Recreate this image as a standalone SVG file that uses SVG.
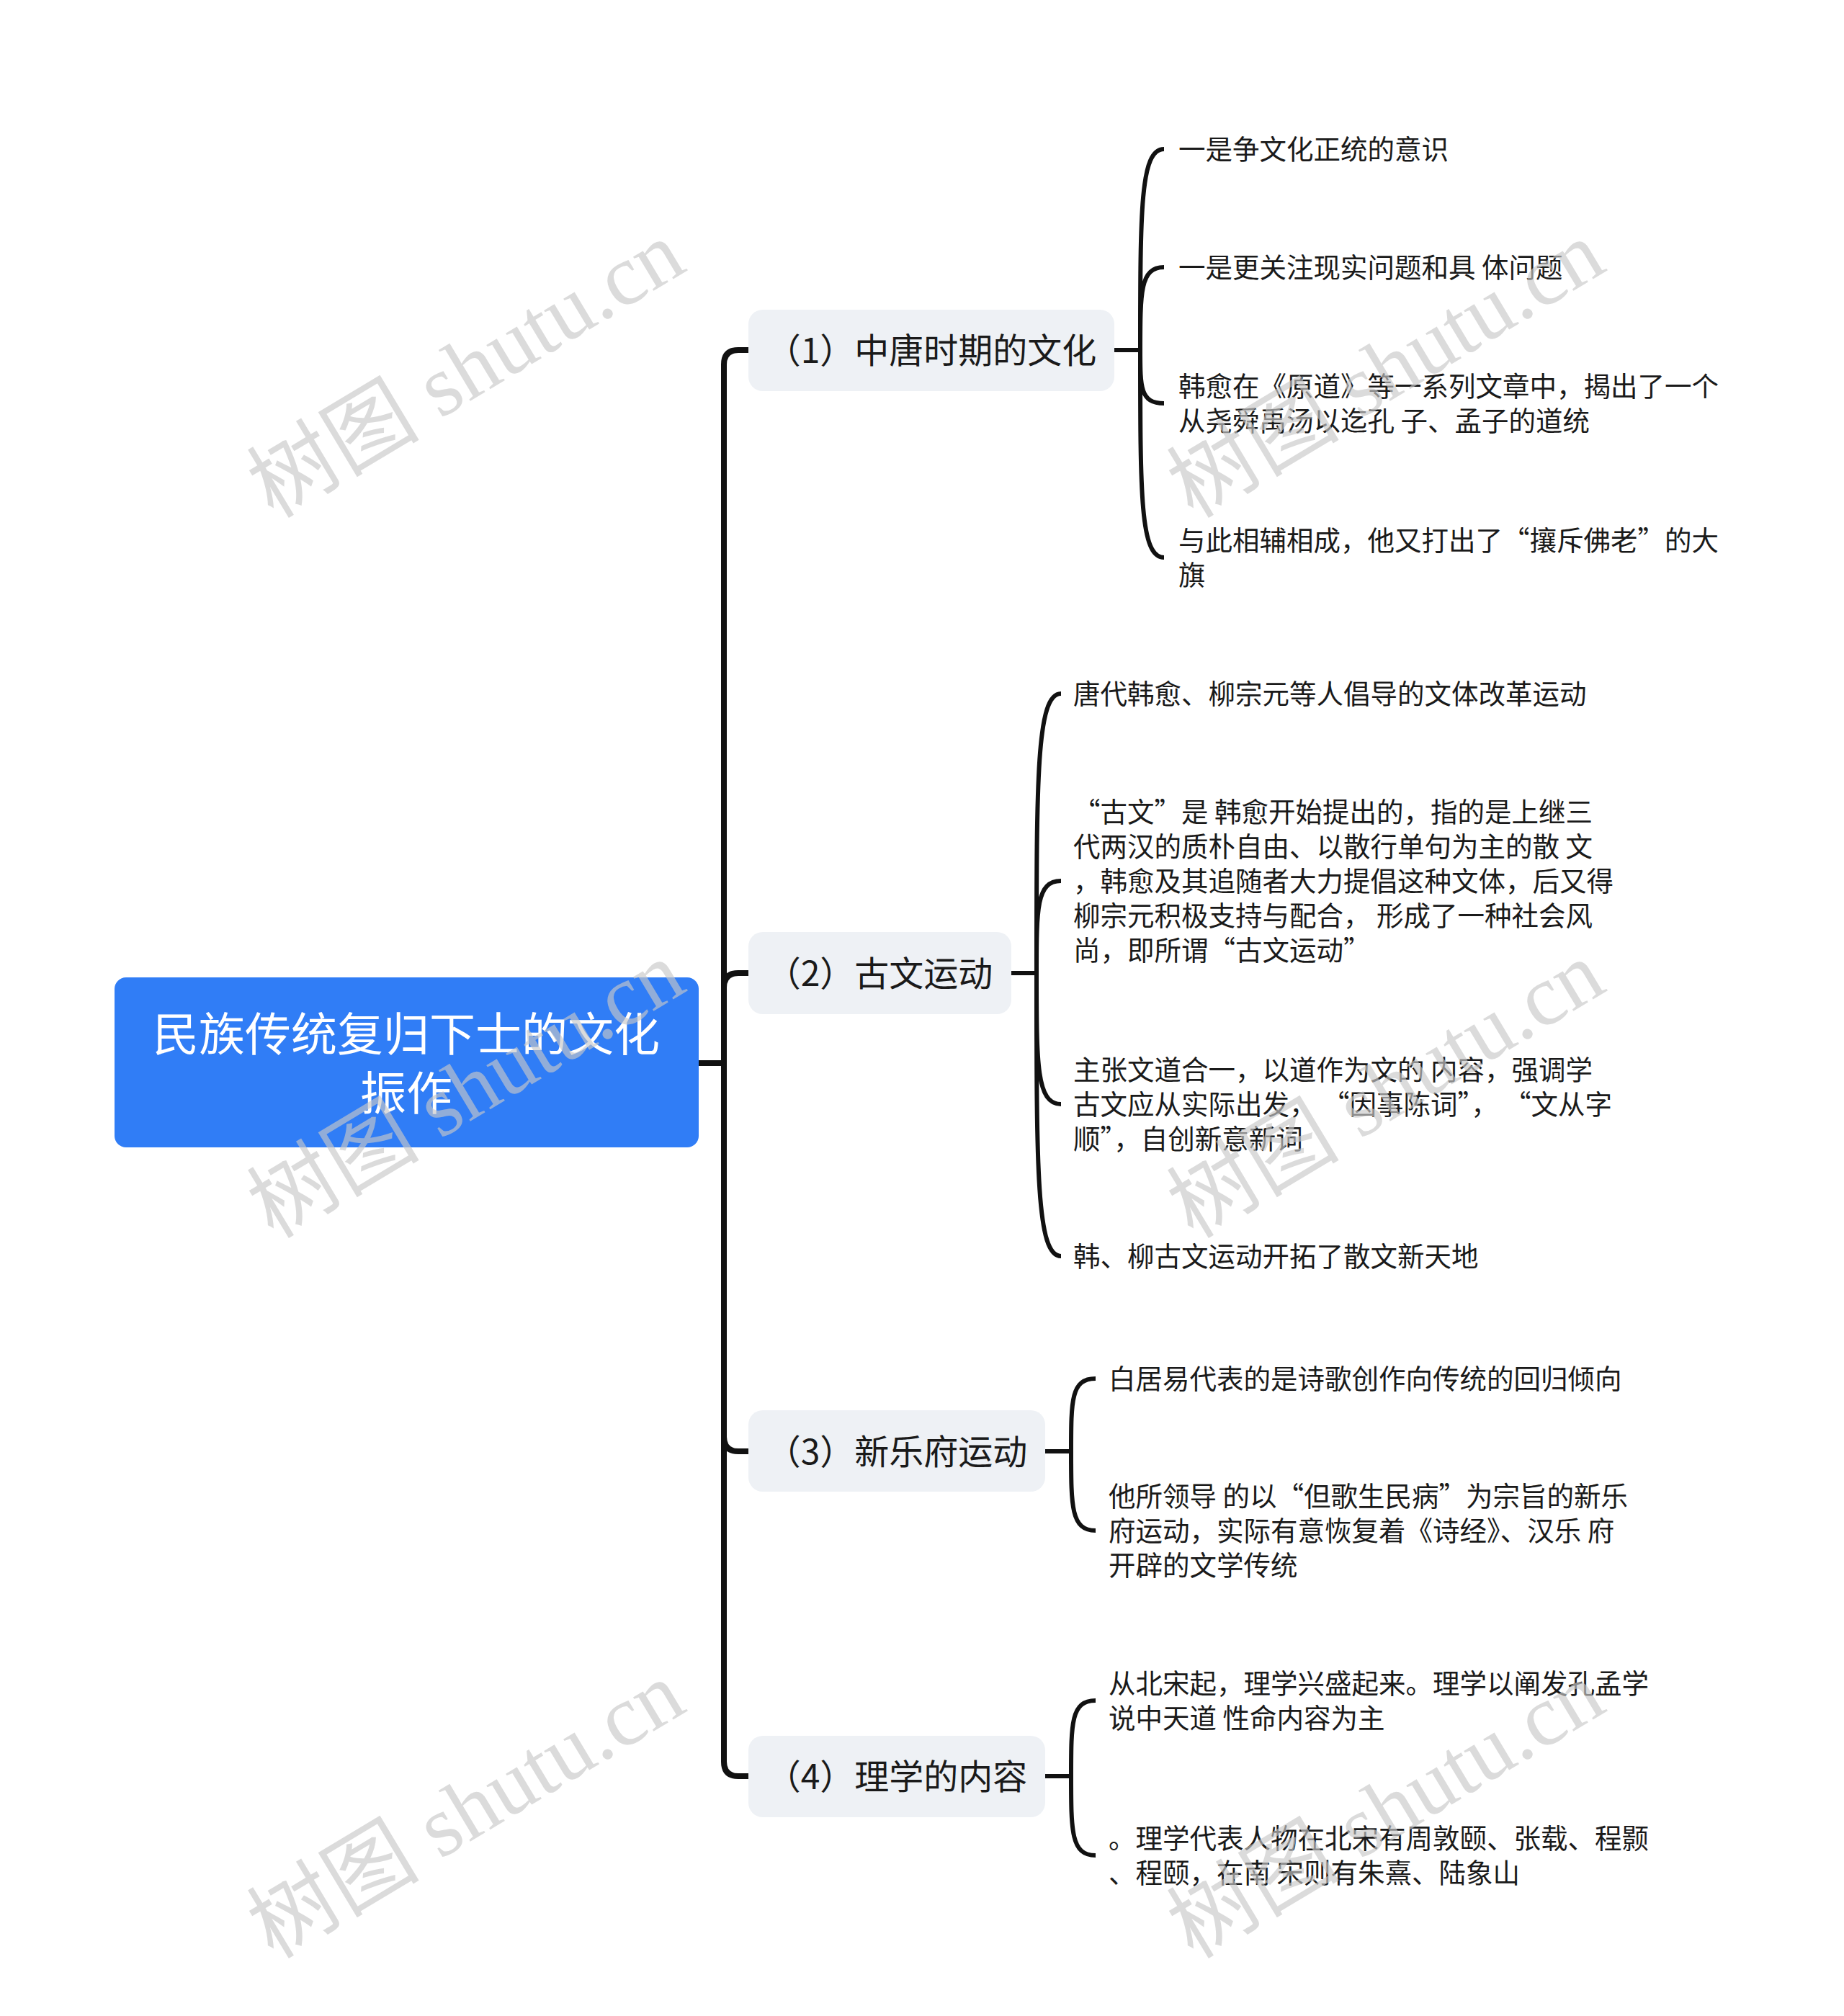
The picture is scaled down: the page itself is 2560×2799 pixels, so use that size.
<svg xmlns="http://www.w3.org/2000/svg" width="2560" height="2799" viewBox="0 0 2560 2799">
<defs>
<style>
.bg{fill:#ffffff}
.l1{fill:none;stroke:#111111;stroke-width:8;stroke-linecap:butt;stroke-linejoin:round}
.l2{fill:none;stroke:#111111;stroke-width:6;stroke-linecap:butt}
.root{fill:#307df6}
.sub{fill:#eef1f5}
.rt{font-family:"Noto Sans CJK SC","Noto Sans",sans-serif;font-size:64px;fill:#ffffff;text-anchor:middle}
.st{font-family:"Noto Sans CJK SC","Noto Sans",sans-serif;font-size:48px;fill:#1a1a1a;text-anchor:middle}
.lt{font-family:"Noto Sans CJK SC","Noto Sans",sans-serif;font-size:37.5px;fill:#1a1a1a}
.wm{font-family:"Liberation Serif","Noto Sans CJK SC",serif;font-size:120px;fill:#c8c8c8;fill-opacity:0.65;text-anchor:middle;dominant-baseline:central}
</style>
</defs>
<rect class="bg" x="0" y="0" width="2560" height="2799"/>

<g id="connectors">
<path class="l1" d="M969 1476 H1005"/>
<path class="l1" d="M1005 1476 V506 Q1005 486 1025 486 H1039"/>
<path class="l1" d="M1005 1476 V1371 Q1005 1351 1025 1351 H1039"/>
<path class="l1" d="M1005 1476 V1995 Q1005 2015 1025 2015 H1039"/>
<path class="l1" d="M1005 1476 V2446 Q1005 2466 1025 2466 H1039"/>

<path class="l2" d="M1547 486 H1583"/>
<path class="l2" d="M1583 486 C1583 291 1583 207 1616 207"/>
<path class="l2" d="M1583 486 C1583 405 1583 371 1616 371"/>
<path class="l2" d="M1583 486 C1583 538 1583 560 1616 560"/>
<path class="l2" d="M1583 486 C1583 688 1583 774 1616 774"/>

<path class="l2" d="M1404 1351 H1439"/>
<path class="l2" d="M1439 1351 C1439 1079 1439 963 1473 963"/>
<path class="l2" d="M1439 1351 C1439 1261 1439 1223 1473 1223"/>
<path class="l2" d="M1439 1351 C1439 1478 1439 1533 1473 1533"/>
<path class="l2" d="M1439 1351 C1439 1626 1439 1744 1473 1744"/>

<path class="l2" d="M1451 2015 H1487"/>
<path class="l2" d="M1487 2015 C1487 1944 1487 1914 1521 1914"/>
<path class="l2" d="M1487 2015 C1487 2092 1487 2125 1521 2125"/>

<path class="l2" d="M1451 2466 H1487"/>
<path class="l2" d="M1487 2466 C1487 2392 1487 2361 1521 2361"/>
<path class="l2" d="M1487 2466 C1487 2543 1487 2576 1521 2576"/>
</g>

<g id="root">
<rect class="root" x="159" y="1357" width="811" height="236" rx="16"/>
<text class="rt" x="564" y="1459">民族传统复归下士的文化</text>
<text class="rt" x="564" y="1541">振作</text>
</g>

<g id="n1">
<rect class="sub" x="1039" y="430" width="508" height="113" rx="20"/>
<text class="st" x="1293" y="504">（1）中唐时期的文化</text>
</g>
<g id="n2">
<rect class="sub" x="1039" y="1294" width="365" height="114" rx="20"/>
<text class="st" x="1221" y="1369">（2）古文运动</text>
</g>
<g id="n3">
<rect class="sub" x="1039" y="1958" width="412" height="113" rx="20"/>
<text class="st" x="1245" y="2033">（3）新乐府运动</text>
</g>
<g id="n4">
<rect class="sub" x="1039" y="2410" width="412" height="113" rx="20"/>
<text class="st" x="1245" y="2484">（4）理学的内容</text>
</g>

<g id="n1a"><text class="lt" x="1636" y="221">一是争文化正统的意识</text></g>
<g id="n1b"><text class="lt" x="1636" y="385">一是更关注现实问题和具 体问题</text></g>
<g id="n1c"><text class="lt" x="1636" y="550">韩愈在《原道》等一系列文章中，揭出了一个</text><text class="lt" x="1636" y="598">从尧舜禹汤以迄孔 子、孟子的道统</text></g>
<g id="n1d"><text class="lt" x="1636" y="764">与此相辅相成，他又打出了“攘斥佛老”的大</text><text class="lt" x="1636" y="812">旗</text></g>

<g id="n2a"><text class="lt" x="1490" y="977">唐代韩愈、柳宗元等人倡导的文体改革运动</text></g>
<g id="n2b">
<text class="lt" x="1490" y="1141">“古文”是 韩愈开始提出的，指的是上继三</text>
<text class="lt" x="1490" y="1189">代两汉的质朴自由、以散行单句为主的散 文</text>
<text class="lt" x="1490" y="1237">，韩愈及其追随者大力提倡这种文体，后又得</text>
<text class="lt" x="1490" y="1285">柳宗元积极支持与配合， 形成了一种社会风</text>
<text class="lt" x="1490" y="1333">尚，即所谓“古文运动”</text>
</g>
<g id="n2c">
<text class="lt" x="1490" y="1499">主张文道合一，以道作为文的 内容，强调学</text>
<text class="lt" x="1490" y="1547">古文应从实际出发， “因事陈词”， “文从字</text>
<text class="lt" x="1490" y="1595">顺”，自创新意新词</text>
</g>
<g id="n2d"><text class="lt" x="1490" y="1758">韩、柳古文运动开拓了散文新天地</text></g>

<g id="n3a"><text class="lt" x="1539" y="1928">白居易代表的是诗歌创作向传统的回归倾向</text></g>
<g id="n3b">
<text class="lt" x="1539" y="2091">他所领导 的以“但歌生民病”为宗旨的新乐</text>
<text class="lt" x="1539" y="2139">府运动，实际有意恢复着《诗经》、汉乐 府</text>
<text class="lt" x="1539" y="2187">开辟的文学传统</text>
</g>

<g id="n4a">
<text class="lt" x="1539" y="2351">从北宋起，理学兴盛起来。理学以阐发孔孟学</text>
<text class="lt" x="1539" y="2399">说中天道 性命内容为主</text>
</g>
<g id="n4b">
<text class="lt" x="1539" y="2566">。理学代表人物在北宋有周敦颐、张载、程颢</text>
<text class="lt" x="1539" y="2614">、程颐，在南 宋则有朱熹、陆象山</text>
</g>

<g id="watermark">
<text class="wm" transform="translate(647 513) rotate(-31)">树图 shutu.cn</text>
<text class="wm" transform="translate(647 1513) rotate(-31)">树图 shutu.cn</text>
<text class="wm" transform="translate(647 2513) rotate(-31)">树图 shutu.cn</text>
<text class="wm" transform="translate(1924 513) rotate(-31)">树图 shutu.cn</text>
<text class="wm" transform="translate(1924 1513) rotate(-31)">树图 shutu.cn</text>
<text class="wm" transform="translate(1924 2513) rotate(-31)">树图 shutu.cn</text>
</g>
</svg>
